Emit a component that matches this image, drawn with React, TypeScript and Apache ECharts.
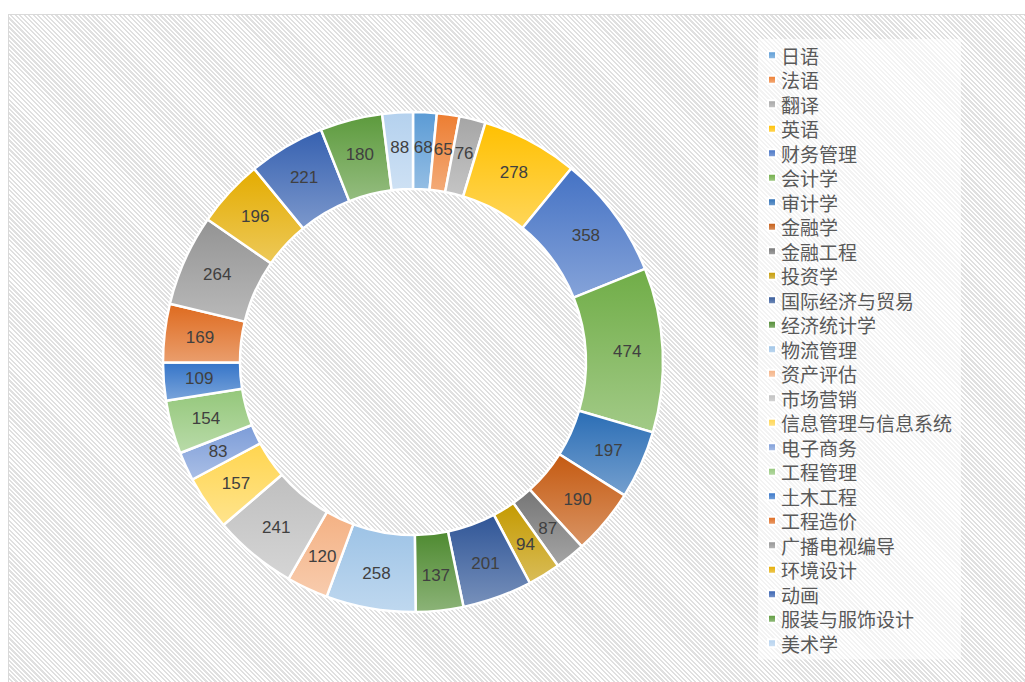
import React, { useEffect, useRef } from "react";
import * as echarts from "echarts";

const categories = [
  "日语", "法语", "翻译", "英语", "财务管理", "会计学", "审计学", "金融学", "金融工程", "投资学",
  "国际经济与贸易", "经济统计学", "物流管理", "资产评估", "市场营销", "信息管理与信息系统", "电子商务",
  "工程管理", "土木工程", "工程造价", "广播电视编导", "环境设计", "动画", "服装与服饰设计", "美术学",
];
const values = [68, 65, 76, 278, 358, 474, 197, 190, 87, 94, 201, 137, 258, 120, 241, 157, 83, 154, 109, 169, 264, 196, 221, 180, 88];

const palette = [
  "#5B9BD5", "#ED7D31", "#A5A5A5", "#FFC000", "#4472C4", "#70AD47", "#2A6DB5", "#C55A11", "#757575", "#C49A00",
  "#2F5597", "#4E8A30", "#9DC3E6", "#F4B183", "#BFBFBF", "#FFD54F", "#7C9CD8", "#94C77A", "#3474C8", "#DE6A1E",
  "#939393", "#E4AC00", "#3560B0", "#5C9A3C", "#B4D1EE",
];

function mix(hex: string, t: number): string {
  const n = parseInt(hex.slice(1), 16);
  const r = (n >> 16) & 255, g = (n >> 8) & 255, b = n & 255;
  const f = (c: number) => Math.round(c + (255 - c) * t).toString(16).padStart(2, "0");
  return "#" + f(r) + f(g) + f(b);
}

export default function App() {
  const ref = useRef<HTMLDivElement>(null);
  useEffect(() => {
    const chart = echarts.init(ref.current!, null, { renderer: "svg" });
    chart.setOption({
      animation: false,
      backgroundColor: "transparent",
      legend: {
        data: categories,
        orient: "vertical",
        left: 758,
        top: 39,
        padding: [4, 9],
        itemWidth: 8,
        itemHeight: 8,
        itemGap: 0,
        icon: "rect",
        backgroundColor: "rgba(255,255,255,0.6)",
        textStyle: { fontSize: 19, lineHeight: 24.5, color: "#595959", fontFamily: "Noto Sans CJK SC" },
      },
      series: [
        {
          type: "pie",
          radius: [173, 250],
          center: [413, 362],
          startAngle: 90,
          clockwise: true,
          avoidLabelOverlap: false,
          label: {
            show: true,
            position: "inside",
            formatter: "{c}",
            fontSize: 17,
            color: "#404040",
            fontFamily: "Liberation Sans",
          },
          labelLine: { show: false },
          emphasis: { disabled: true },
          itemStyle: { borderColor: "#ffffff", borderWidth: 2.5 },
          data: categories.map((name, i) => ({
            name,
            value: values[i],
            itemStyle: {
              color: {
                type: "linear", x: 0, y: 0, x2: 0, y2: 1,
                colorStops: [
                  { offset: 0, color: palette[i] },
                  { offset: 1, color: mix(palette[i], 0.35) },
                ],
              },
            },
          })),
        },
      ],
    });
    return () => chart.dispose();
  }, []);
  return (
    <div style={{ position: "fixed", left: 0, top: 0, width: 1025, height: 682, background: "#fff", overflow: "hidden" }}>
      <div
        style={{
          position: "absolute", left: 8, top: 14, width: 1017, height: 668, boxSizing: "border-box",
          border: "1px solid #d9d9d9", borderRight: "none", borderBottom: "none",
          background: "repeating-linear-gradient(45deg, #ffffff 0px, #ffffff 1.6px, #e0e0e0 1.6px, #e0e0e0 3.2px)",
        }}
      />
      <div ref={ref} style={{ position: "absolute", left: 0, top: 0, width: 1025, height: 682 }} />
    </div>
  );
}
